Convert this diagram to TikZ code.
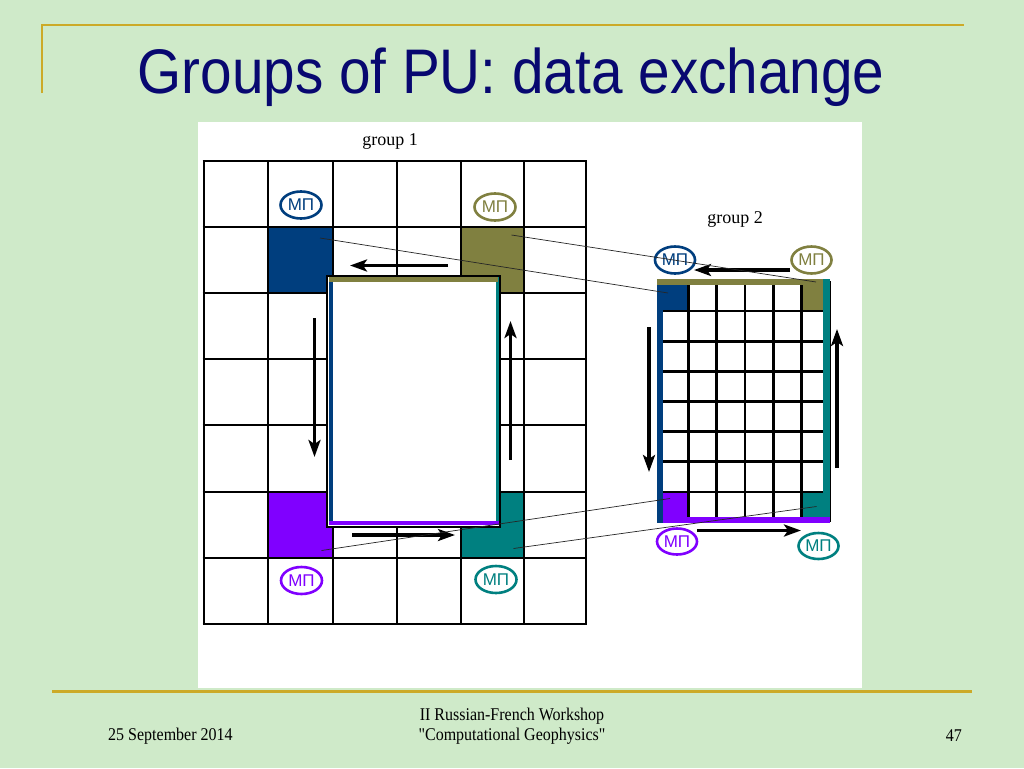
\documentclass[tikz,border=0pt]{standalone}
\usepackage{fontspec}
\setmainfont{Liberation Serif}
\newfontfamily\sansf{Liberation Sans}
\usetikzlibrary{arrows.meta,shapes.geometric}
\definecolor{bg}{RGB}{207,234,201}
\definecolor{gold}{RGB}{204,170,40}
\definecolor{titlec}{RGB}{8,8,112}
\definecolor{cblue}{RGB}{0,62,126}
\definecolor{colive}{RGB}{128,128,64}
\definecolor{cpurp}{RGB}{128,0,255}
\definecolor{cteal}{RGB}{0,128,128}
\tikzset{
  gridline/.style={line width=2.6pt, black},
  arr/.style={line width=3.2pt, -{Stealth[length=17pt,width=12pt,inset=4pt]}},
  conn/.style={line width=0.7pt, black!85},
  mp/.style={ellipse, draw=#1, text=#1, line width=2.6pt, minimum width=41pt, minimum height=27pt, inner sep=0pt, font=\sansf\fontsize{17}{17}\selectfont},
  lbl/.style={inner sep=0pt, font=\fontsize{18}{18}\selectfont},
  foot/.style={inner sep=0pt, font=\fontsize{16}{19}\selectfont, align=center}
}
\begin{document}
\begin{tikzpicture}[x=1pt,y=-1pt]
\useasboundingbox (0,0) rectangle (1024,768);
\fill[bg] (0,0) rectangle (1024,768);
% decorations
\draw[gold, line width=2pt] (42,93) -- (42,25) -- (964,25);
\draw[gold, line width=3pt] (52,691) -- (972,691);
% title
\node[anchor=base, inner sep=0pt, text=titlec, font=\sansf\fontsize{63}{63}\selectfont] (title) at (511,93) {\scalebox{0.9}[1]{Groups of PU: data exchange}};
% white panel
\fill[white] (198,122) rectangle (862,688);
\node[lbl] (g1) at (390,141) {group 1};
\node[lbl] (g2) at (735,219) {group 2};
% ---------- left grid ----------
\fill[cblue] (268,227) rectangle (333,293);
\fill[colive] (461,227) rectangle (524,293);
\fill[cpurp] (268,492) rectangle (333,558);
\fill[cteal] (461,492) rectangle (524,558);
\foreach \x in {204,268,333,397,461,524,586} \draw[gridline] (\x,161) -- (\x,624);
\foreach \y in {161,227,293,359,425,492,558,624} \draw[gridline] (202.7,\y) -- (587.3,\y);
% inner rectangle
\fill[white] (327,276) rectangle (500,527);
\fill[cblue] (329,277) rectangle (332.5,525);
\fill[cteal] (495.5,277) rectangle (499,525);
\fill[colive] (329,277) rectangle (498,281.5);
\fill[cpurp] (329,521) rectangle (499,525);
\draw[line width=2.8pt] (327,276) rectangle (500,527);
% arrows left
\coordinate (aT1) at (448,265.5); \coordinate (aT2) at (350,265.5);
\coordinate (aL1) at (314.5,318); \coordinate (aL2) at (314.5,457);
\coordinate (aR1) at (510.5,460); \coordinate (aR2) at (510.5,321);
\coordinate (aB1) at (352,535); \coordinate (aB2) at (455,535);
\draw[arr] (aT1) -- (aT2);
\draw[arr] (aL1) -- (aL2);
\draw[arr] (aR1) -- (aR2);
\draw[arr] (aB1) -- (aB2);
% MP labels left
\node[mp=cblue] (m1) at (301,205) {МП};
\node[mp=colive] (m2) at (495,207) {МП};
\node[mp=cpurp] (m3) at (301.5,580.5) {МП};
\node[mp=cteal] (m4) at (496,579.5) {МП};
% ---------- right grid ----------
\fill[cblue] (660,281) rectangle (688.3,311);
\fill[colive] (801.7,281) rectangle (830,311);
\fill[cpurp] (660,492) rectangle (688.3,522);
\fill[cteal] (801.7,492) rectangle (830,522);
\foreach \i in {0,...,6} \draw[gridline] (660+28.333*\i,281) -- (660+28.333*\i,522);
\foreach \i in {0,...,8} \draw[gridline] (660,281+30.125*\i) -- (830,281+30.125*\i);
\fill[cblue] (657,279) rectangle (663,523);
\fill[colive] (657,279) rectangle (823,284.5);
\fill[cteal] (823,279) rectangle (829.5,523);
\fill[cpurp] (663,517) rectangle (829.5,523);
% arrows right
\coordinate (bT1) at (790,270); \coordinate (bT2) at (694,270);
\coordinate (bL1) at (649,327); \coordinate (bL2) at (649,472);
\coordinate (bR1) at (837,468); \coordinate (bR2) at (837,329);
\coordinate (bB1) at (697,530.5); \coordinate (bB2) at (801,530.5);
\draw[arr] (bT1) -- (bT2);
\draw[arr] (bL1) -- (bL2);
\draw[arr] (bR1) -- (bR2);
\draw[arr] (bB1) -- (bB2);
% MP labels right
\node[mp=cblue, minimum width=40pt] (n1) at (675,260) {МП};
\node[mp=colive, minimum width=40pt] (n2) at (811.5,260) {МП};
\node[mp=cpurp, minimum width=40pt, minimum height=26pt] (n3) at (677,541.5) {МП};
\node[mp=cteal, minimum width=40pt, minimum height=26pt] (n4) at (818.5,546) {МП};
% ---------- thin connectors ----------
\coordinate (cLb) at (320,238);
\coordinate (cLo) at (511.5,235);
\coordinate (cLp) at (321.5,550.5);
\coordinate (cLt) at (513.5,548.5);
\coordinate (cRb) at (668,293);
\coordinate (cRo) at (816,282);
\coordinate (cRp) at (670,498.5);
\coordinate (cRt) at (816.5,506.5);
\draw[conn] (cLb) -- (cRb);
\draw[conn] (cLo) -- (cRo);
\draw[conn] (cLp) -- (cRp);
\draw[conn] (cLt) -- (cRt);
% footer
\node[foot, anchor=west] (date) at (108,736) {\scalebox{1}[1.12]{25 September 2014}};
\node[foot] (work) at (512,726) {\scalebox{1}[1.12]{II Russian-French Workshop}\\[1pt]\scalebox{1}[1.12]{\textquotedbl Computational Geophysics\textquotedbl}};
\node[foot, anchor=east] (page) at (962,736) {\scalebox{1}[1.12]{47}};
\end{tikzpicture}
\end{document}
